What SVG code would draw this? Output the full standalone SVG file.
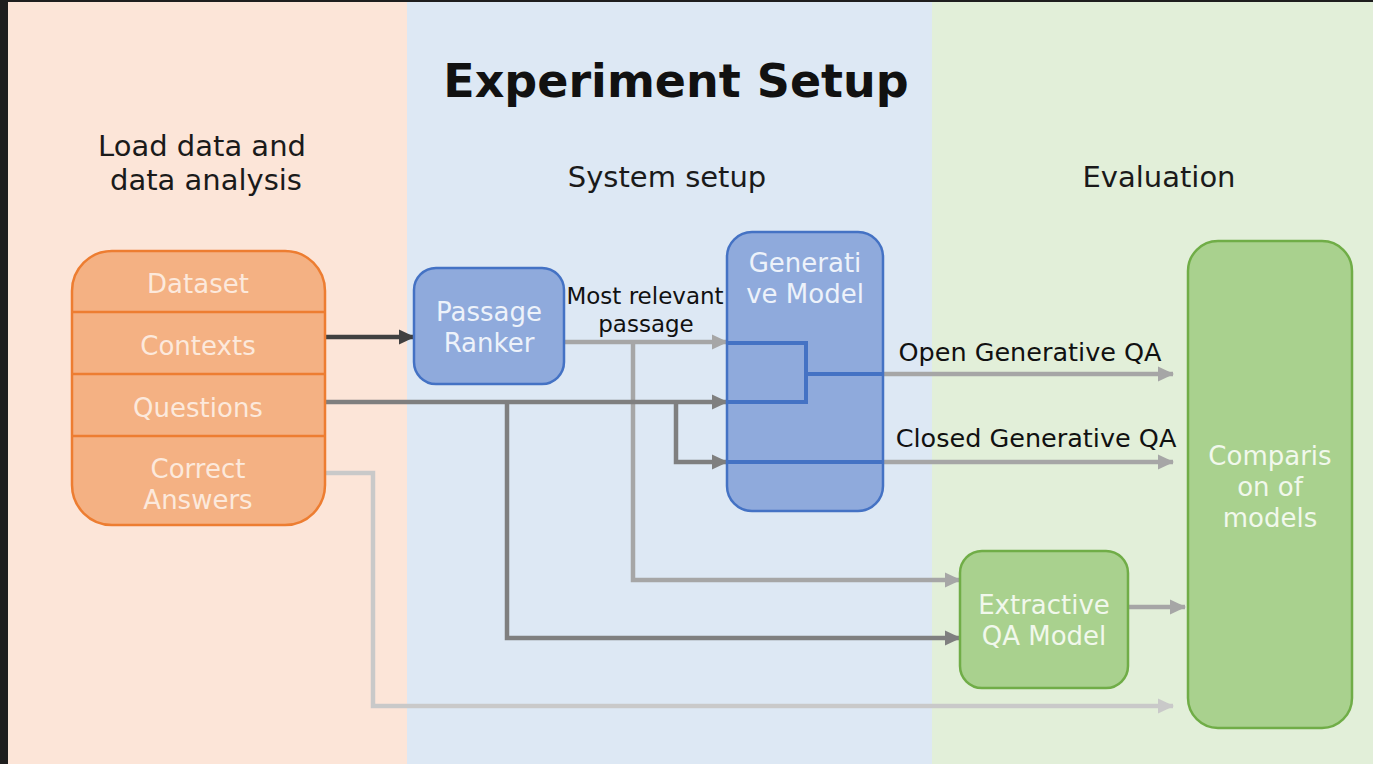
<svg xmlns="http://www.w3.org/2000/svg" width="1373" height="764" viewBox="0 0 1373 764">
  <style>
    text { font-family: "DejaVu Sans", "Liberation Sans", sans-serif; }
    .title { font-size: 46px; font-weight: bold; fill: #111; text-anchor: middle; }
    .head { font-size: 29px; fill: #1a1a1a; text-anchor: middle; }
    .lbl { font-size: 23px; fill: #111; text-anchor: middle; }
    .lbl2 { font-size: 25.5px; fill: #111; text-anchor: middle; }
    .ntxt { font-size: 26px; text-anchor: middle; }
    .orange rect { fill: #f4b183; stroke: #ed7d31; stroke-width: 2.5; }
    .orange line { stroke: #ed7d31; stroke-width: 2.5; }
    .orange text { fill: #fce9dc; }
    .blue rect { fill: #8faadc; stroke: #4472c4; stroke-width: 2.5; }
    .blue text { fill: #edf2fa; }
    .green rect { fill: #a9d18e; stroke: #70ad47; stroke-width: 2.5; }
    .green text { fill: #f1f8ec; }
    .inner { fill: none; stroke: #4472c4; stroke-width: 4; }
    .c { fill: none; stroke-width: 4.5; }
    .dark { stroke: #404040; }
    .mid { stroke: #7f7f7f; }
    .light { stroke: #a6a6a6; }
    .pale { stroke: #c9c9c9; }
  </style>
  <defs>
    <marker id="ah-dark" markerUnits="userSpaceOnUse" markerWidth="18" markerHeight="18" refX="15" refY="9" orient="auto"><path d="M0,1.5 L16,9 L0,16.5 Z" fill="#404040"/></marker>
    <marker id="ah-mid" markerUnits="userSpaceOnUse" markerWidth="18" markerHeight="18" refX="15" refY="9" orient="auto"><path d="M0,1.5 L16,9 L0,16.5 Z" fill="#7f7f7f"/></marker>
    <marker id="ah-light" markerUnits="userSpaceOnUse" markerWidth="18" markerHeight="18" refX="15" refY="9" orient="auto"><path d="M0,1.5 L16,9 L0,16.5 Z" fill="#a6a6a6"/></marker>
    <marker id="ah-pale" markerUnits="userSpaceOnUse" markerWidth="18" markerHeight="18" refX="15" refY="9" orient="auto"><path d="M0,1.5 L16,9 L0,16.5 Z" fill="#c9c9c9"/></marker>
  </defs>

  <!-- frame and column backgrounds -->
  <rect x="0" y="0" width="1373" height="764" fill="#1e1e1e"/>
  <rect x="8" y="2" width="399" height="762" fill="#fce5d8"/>
  <rect x="407" y="2" width="525" height="762" fill="#dde8f4"/>
  <rect x="932" y="2" width="441" height="762" fill="#e2efd9"/>

  <!-- headings -->
  <text class="title" x="676" y="97">Experiment Setup</text>
  <text class="head" x="202" y="156">Load data and</text>
  <text class="head" x="206" y="190">data analysis</text>
  <text class="head" x="667" y="187">System setup</text>
  <text class="head" x="1159" y="187">Evaluation</text>

  <!-- connectors -->
  <g id="connectors">
    <path class="c dark" d="M325,337 H414" marker-end="url(#ah-dark)"/>
    <path class="c light" d="M564,342 H727" marker-end="url(#ah-light)"/>
    <path class="c light" d="M633,342 V580 H960" marker-end="url(#ah-light)"/>
    <path class="c mid" d="M325,402 H727" marker-end="url(#ah-mid)"/>
    <path class="c mid" d="M507,402 V638 H960" marker-end="url(#ah-mid)"/>
    <path class="c mid" d="M676,402 V462 H727" marker-end="url(#ah-mid)"/>
    <path class="c pale" d="M325,473 H373 V706 H1173" marker-end="url(#ah-pale)"/>
    <path class="c light" d="M883,374 H1173" marker-end="url(#ah-light)"/>
    <path class="c light" d="M883,462 H1173" marker-end="url(#ah-light)"/>
    <path class="c light" d="M1128,607 H1185" marker-end="url(#ah-light)"/>
    <text class="lbl" x="645" y="304">Most relevant</text>
    <text class="lbl" x="646" y="332">passage</text>
    <text class="lbl2" x="1030" y="361">Open Generative QA</text>
    <text class="lbl2" x="1036" y="447">Closed Generative QA</text>
  </g>

  <!-- data node -->
  <g id="data" class="orange">
    <rect x="72" y="251" width="253" height="274" rx="40"/>
    <line x1="72" y1="312" x2="325" y2="312"/>
    <line x1="72" y1="374" x2="325" y2="374"/>
    <line x1="72" y1="436" x2="325" y2="436"/>
    <text class="ntxt" x="198" y="293">Dataset</text>
    <text class="ntxt" x="198" y="355">Contexts</text>
    <text class="ntxt" x="198" y="417">Questions</text>
    <text class="ntxt" x="198" y="478">Correct</text>
    <text class="ntxt" x="198" y="509">Answers</text>
  </g>

  <!-- passage ranker -->
  <g id="ranker" class="blue">
    <rect x="414" y="268" width="150" height="116" rx="22"/>
    <text class="ntxt" x="489" y="321">Passage</text>
    <text class="ntxt" x="489" y="352">Ranker</text>
  </g>

  <!-- generative model -->
  <g id="generative" class="blue">
    <rect x="727" y="232" width="156" height="279" rx="25"/>
    <text class="ntxt" x="805" y="272">Generati</text>
    <text class="ntxt" x="805" y="303">ve Model</text>
    <path class="inner" d="M727,343 H806 V402 H727 M806,374 H883 M727,462 H883"/>
  </g>

  <!-- extractive model -->
  <g id="extractive" class="green">
    <rect x="960" y="551" width="168" height="137" rx="22"/>
    <text class="ntxt" x="1044" y="614">Extractive</text>
    <text class="ntxt" x="1044" y="645">QA Model</text>
  </g>

  <!-- comparison -->
  <g id="comparison" class="green">
    <rect x="1188" y="241" width="164" height="487" rx="30"/>
    <text class="ntxt" x="1270" y="465">Comparis</text>
    <text class="ntxt" x="1270" y="496">on of</text>
    <text class="ntxt" x="1270" y="527">models</text>
  </g>
</svg>
